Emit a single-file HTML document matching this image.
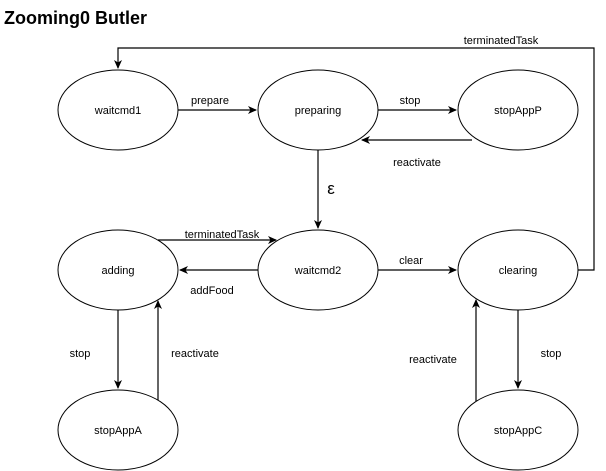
<!DOCTYPE html>
<html><head><style>
html,body{margin:0;padding:0;background:#fff;width:606px;height:471px;overflow:hidden}
svg text{font-family:"Liberation Sans",Arial,sans-serif;font-size:11px;fill:#000}
</style></head><body>
<svg width="606" height="471" viewBox="0 0 606 471" xmlns="http://www.w3.org/2000/svg">
<defs><marker id="a" markerWidth="10" markerHeight="10" refX="8" refY="5" orient="auto" markerUnits="userSpaceOnUse"><path d="M0,1 L9,5 L0,9 L2.5,5 Z" fill="#000"/></marker></defs>
<text x="4" y="24" style="font-size:18px;font-weight:bold">Zooming0 Butler</text>
<g fill="#fff" stroke="#000" stroke-width="1">
<ellipse cx="118" cy="110" rx="60" ry="40"/>
<ellipse cx="318" cy="110" rx="60" ry="40"/>
<ellipse cx="518" cy="110" rx="60" ry="40"/>
<ellipse cx="118" cy="270" rx="60" ry="40"/>
<ellipse cx="318" cy="270" rx="60" ry="40"/>
<ellipse cx="518" cy="270" rx="60" ry="40"/>
<ellipse cx="118" cy="430" rx="60" ry="40"/>
<ellipse cx="518" cy="430" rx="60" ry="40"/>
</g>
<g stroke="#000" fill="none" stroke-width="1.2" marker-end="url(#a)">
<path d="M178,110 H256"/>
<path d="M378,110 H456"/>
<path d="M472,140 H362"/>
<path d="M318,150 V228"/>
<path d="M578,270 H594 V48 H118 V68"/>
<path d="M158,240 H276"/>
<path d="M258,270 H180"/>
<path d="M378,270 H456"/>
<path d="M118,310 V388"/>
<path d="M158,400 V301"/>
<path d="M518,310 V388"/>
<path d="M476,401 V300"/>
</g>
<g text-anchor="middle">
<text x="118" y="114">waitcmd1</text>
<text x="318" y="114">preparing</text>
<text x="518" y="114">stopAppP</text>
<text x="118" y="274">adding</text>
<text x="318" y="274">waitcmd2</text>
<text x="518" y="274">clearing</text>
<text x="118" y="434">stopAppA</text>
<text x="518" y="434">stopAppC</text>
<text x="210" y="104">prepare</text>
<text x="410" y="104">stop</text>
<text x="417" y="166">reactivate</text>
<text x="501" y="44">terminatedTask</text>
<text x="222" y="238">terminatedTask</text>
<text x="212" y="294">addFood</text>
<text x="411" y="264">clear</text>
<text x="80" y="357">stop</text>
<text x="195" y="357">reactivate</text>
<text x="551" y="357">stop</text>
<text x="433" y="363">reactivate</text>
<text x="331" y="194" style="font-size:17px">ε</text>
</g>
</svg>
</body></html>
